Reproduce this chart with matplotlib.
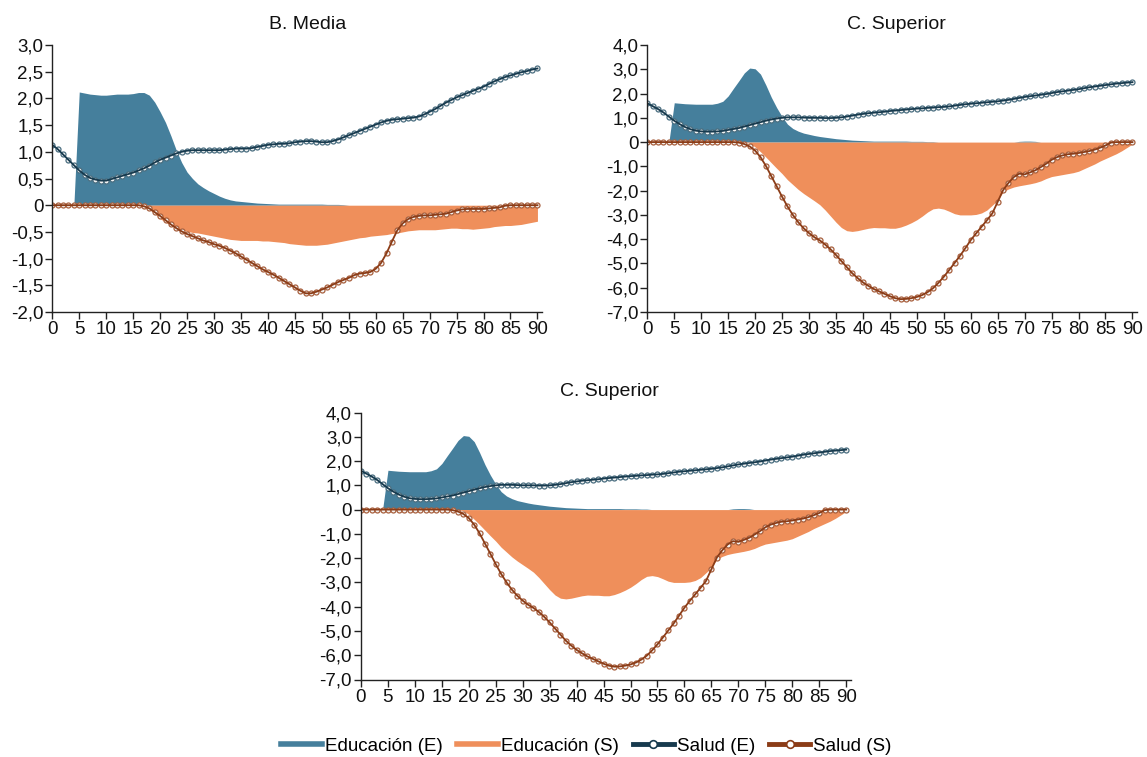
import matplotlib as mpl
mpl.use('Agg')
import matplotlib.pyplot as plt
from matplotlib.lines import Line2D
import numpy as np

plt.rcParams['font.family'] = ['Liberation Sans', 'DejaVu Sans']

# ------- data (ages 0..90) --------
ages = list(range(91))

# B. Media
media_edu_e = [0, 0, 0, 0, 0, 2.12, 2.10, 2.08, 2.07, 2.06,
               2.06, 2.07, 2.08, 2.08, 2.08, 2.09, 2.11, 2.11, 2.06, 1.93,
               1.75, 1.55, 1.30, 1.03, 0.80, 0.62, 0.50, 0.40, 0.33, 0.27,
               0.22, 0.17, 0.13, 0.10, 0.08, 0.07, 0.06, 0.05, 0.04, 0.035,
               0.03, 0.025, 0.02, 0.02, 0.02, 0.02, 0.02, 0.02, 0.02, 0.02,
               0.02, 0.015, 0.015, 0.015, 0.01, 0, 0, 0, 0, 0,
               0, 0, 0, 0, 0, 0, 0, 0, 0, 0,
               0, 0, 0, 0, 0, 0, 0, 0, 0, 0,
               0, 0, 0, 0, 0, 0, 0, 0, 0, 0, 0]
media_edu_s = [0, 0, 0, 0, 0, 0, 0, 0, 0, 0,
               0, 0, 0, 0, 0, 0, 0, -0.02, -0.08, -0.16,
               -0.25, -0.32, -0.37, -0.42, -0.46, -0.49, -0.51, -0.52, -0.54, -0.56,
               -0.58, -0.60, -0.62, -0.64, -0.65, -0.66, -0.66, -0.66, -0.66, -0.67,
               -0.67, -0.68, -0.69, -0.70, -0.72, -0.73, -0.74, -0.75, -0.75, -0.75,
               -0.74, -0.73, -0.71, -0.69, -0.67, -0.65, -0.63, -0.61, -0.60, -0.58,
               -0.57, -0.56, -0.55, -0.53, -0.52, -0.50, -0.48, -0.47, -0.46, -0.46,
               -0.46, -0.46, -0.45, -0.44, -0.43, -0.43, -0.44, -0.44, -0.45, -0.44,
               -0.43, -0.42, -0.40, -0.39, -0.38, -0.38, -0.37, -0.36, -0.34, -0.32, -0.30]
media_sal_e = [1.13, 1.05, 0.95, 0.85, 0.75, 0.65, 0.57, 0.51, 0.48, 0.46,
               0.46, 0.49, 0.52, 0.55, 0.58, 0.61, 0.65, 0.69, 0.74, 0.80,
               0.85, 0.89, 0.93, 0.97, 1.00, 1.02, 1.03, 1.03, 1.03, 1.03,
               1.03, 1.03, 1.04, 1.05, 1.06, 1.06, 1.06, 1.07, 1.09, 1.11,
               1.13, 1.14, 1.15, 1.15, 1.16, 1.18, 1.19, 1.20, 1.20, 1.19,
               1.18, 1.18, 1.20, 1.23, 1.27, 1.31, 1.35, 1.39, 1.43, 1.47,
               1.51, 1.55, 1.58, 1.60, 1.61, 1.62, 1.63, 1.64, 1.66, 1.70,
               1.75, 1.80, 1.86, 1.92, 1.97, 2.02, 2.06, 2.10, 2.14, 2.18,
               2.22, 2.27, 2.32, 2.36, 2.40, 2.43, 2.46, 2.49, 2.51, 2.54, 2.56]
media_sal_s = [0, 0, 0, 0, 0, 0, 0, 0, 0, 0,
               0, 0, 0, 0, 0, 0, 0, -0.02, -0.06, -0.13,
               -0.20, -0.28, -0.36, -0.43, -0.49, -0.54, -0.58, -0.62, -0.66, -0.69,
               -0.73, -0.76, -0.80, -0.85, -0.90, -0.96, -1.02, -1.08, -1.14, -1.20,
               -1.25, -1.30, -1.36, -1.42, -1.48, -1.54, -1.60, -1.65, -1.65, -1.62,
               -1.58, -1.54, -1.49, -1.44, -1.40, -1.36, -1.31, -1.28, -1.27, -1.25,
               -1.19, -1.08, -0.90, -0.68, -0.47, -0.34, -0.26, -0.22, -0.20, -0.19,
               -0.19, -0.18, -0.17, -0.16, -0.13, -0.10, -0.08, -0.07, -0.07, -0.07,
               -0.07, -0.06, -0.05, -0.04, -0.01, 0, 0, 0, 0, 0, 0]

# C. Superior
sup_edu_e = [0, 0, 0, 0, 0, 1.62, 1.60, 1.58, 1.57, 1.56,
             1.56, 1.56, 1.56, 1.60, 1.68, 1.90, 2.22, 2.53, 2.85, 3.05,
             3.02, 2.80, 2.35, 1.85, 1.42, 1.05, 0.74, 0.56, 0.45, 0.37,
             0.32, 0.27, 0.23, 0.20, 0.17, 0.14, 0.12, 0.10, 0.08, 0.07,
             0.06, 0.05, 0.04, 0.04, 0.04, 0.04, 0.04, 0.04, 0.04, 0.03,
             0.03, 0.03, 0.02, 0.02, 0, 0, 0, 0, 0, 0,
             0, 0, 0, 0, 0, 0, 0, 0, 0, 0.03,
             0.04, 0.04, 0.03, 0, 0, 0, 0, 0, 0, 0,
             0, 0, 0, 0, 0, 0, 0, 0, 0, 0, 0]
sup_edu_s = [0, 0, 0, 0, 0, 0, 0, 0, 0, 0,
             0, 0, 0, 0, 0, 0, 0, 0, 0, -0.05,
             -0.20, -0.40, -0.62, -0.85, -1.08, -1.30, -1.55, -1.75, -1.95, -2.12,
             -2.27, -2.42, -2.58, -2.80, -3.05, -3.30, -3.52, -3.65, -3.68, -3.65,
             -3.60, -3.55, -3.52, -3.53, -3.53, -3.55, -3.55, -3.50, -3.42, -3.32,
             -3.20, -3.05, -2.88, -2.75, -2.72, -2.76, -2.85, -2.95, -3.00, -3.00,
             -3.00, -2.98, -2.92, -2.80, -2.60, -2.40, -2.05, -1.93, -1.85, -1.80,
             -1.76, -1.72, -1.67, -1.60, -1.50, -1.42, -1.38, -1.34, -1.30, -1.26,
             -1.20, -1.10, -1.00, -0.90, -0.78, -0.68, -0.58, -0.48, -0.36, -0.22, -0.08]
sup_sal_e = [1.60, 1.48, 1.36, 1.22, 1.05, 0.88, 0.74, 0.62, 0.53, 0.47,
             0.44, 0.43, 0.43, 0.44, 0.46, 0.50, 0.54, 0.58, 0.64, 0.70,
             0.76, 0.82, 0.88, 0.93, 0.97, 1.00, 1.02, 1.02, 1.02, 1.01,
             1.00, 1.00, 1.00, 0.99, 0.99, 1.00, 1.02, 1.05, 1.09, 1.13,
             1.16, 1.19, 1.21, 1.23, 1.25, 1.28, 1.30, 1.32, 1.34, 1.36,
             1.38, 1.39, 1.41, 1.42, 1.44, 1.45, 1.47, 1.50, 1.53, 1.56,
             1.58, 1.60, 1.62, 1.64, 1.66, 1.68, 1.71, 1.74, 1.78, 1.82,
             1.86, 1.89, 1.92, 1.95, 1.98, 2.02, 2.06, 2.09, 2.12, 2.15,
             2.18, 2.22, 2.26, 2.29, 2.32, 2.35, 2.38, 2.41, 2.43, 2.45, 2.47]
sup_sal_s = [0, 0, 0, 0, 0, 0, 0, 0, 0, 0,
             0, 0, 0, 0, 0, 0, 0, -0.02, -0.08, -0.18,
             -0.35, -0.62, -0.98, -1.40, -1.82, -2.25, -2.65, -3.00, -3.30, -3.55,
             -3.75, -3.92, -4.05, -4.22, -4.42, -4.65, -4.90, -5.15, -5.40, -5.60,
             -5.78, -5.92, -6.05, -6.15, -6.25, -6.35, -6.43, -6.47, -6.46, -6.43,
             -6.38, -6.30, -6.18, -6.02, -5.80, -5.55, -5.27, -4.98, -4.69, -4.37,
             -4.04, -3.76, -3.49, -3.22, -2.94, -2.46, -1.98, -1.68, -1.44, -1.30,
             -1.33, -1.25, -1.16, -1.03, -0.89, -0.73, -0.62, -0.55, -0.50, -0.48,
             -0.45, -0.41, -0.37, -0.31, -0.23, -0.14, -0.02, 0, 0, 0, 0]

panels = [
    ('B. Media', media_edu_e, media_edu_s, media_sal_e, media_sal_s, (-2.0, 3.0), 0.5),
    ('C. Superior', sup_edu_e, sup_edu_s, sup_sal_e, sup_sal_s, (-7.0, 4.0), 1.0),
    ('C. Superior', sup_edu_e, sup_edu_s, sup_sal_e, sup_sal_s, (-7.0, 4.0), 1.0),
]

series_labels = ['Educación (E)', 'Educación (S)', 'Salud (E)', 'Salud (S)']

c_edu_e = '#457f9c'
c_edu_s = '#ef8f5b'
c_sal_e = '#173a4e'
c_sal_s = '#8b3c17'
m_sal_e = '#4a6e80'
m_sal_s = '#a8603e'

W, H = 1147, 757
fig = plt.figure(figsize=(W / 100, H / 100), dpi=100)

# axes boxes in pixels: left, top, width, height
boxes = [(52.3, 45, 490, 267), (647.3, 45, 490, 267), (361, 412.5, 490, 267)]
title_x = [0.521, 0.508, 0.506]


def fmt(v):
    if abs(v) < 1e-9:
        return '0'
    return ('%.1f' % v).replace('.', ',')


for (title, ee, es, se, ss, ylim, step), (l, t, w, h), tx in zip(panels, boxes, title_x):
    ax = fig.add_axes([l / W, 1 - (t + h) / H, w / W, h / H])
    ax.fill_between(ages, 0, ee, color=c_edu_e, lw=0)
    ax.fill_between(ages, 0, es, color=c_edu_s, lw=0)
    # open circles under the line, line drawn through them
    ax.plot(ages, se, 'o', ms=3.6, mfc='#f4f4f4', mec=m_sal_e, mew=0.9)
    ax.plot(ages, se, '-', color=c_sal_e, lw=1.3)
    ax.plot(ages, ss, 'o', ms=3.6, mfc='#f4f4f4', mec=m_sal_s, mew=0.9)
    ax.plot(ages, ss, '-', color=c_sal_s, lw=1.3)
    ax.set_xlim(0, 90.9)
    ax.set_ylim(*ylim)
    ax.set_xticks(range(0, 91, 5))
    yt = np.arange(ylim[0], ylim[1] + step / 2, step)
    ax.set_yticks(yt)
    ax.set_yticklabels([fmt(v) for v in yt])
    for s in ['top', 'right']:
        ax.spines[s].set_visible(False)
    for s in ['left', 'bottom']:
        ax.spines[s].set_color('#222222')
        ax.spines[s].set_linewidth(1.0)
    ax.tick_params(axis='both', direction='out', length=5, width=1.0,
                   color='#222222', labelsize=13.5, pad=1.5, labelcolor='#111111')
    ax.text(tx, 1 + 16 / h, title, transform=ax.transAxes, ha='center',
            va='baseline', fontsize=14, color='#111111')

handles = [
    Line2D([], [], color=c_edu_e, lw=4),
    Line2D([], [], color=c_edu_s, lw=4),
    Line2D([], [], color=c_sal_e, lw=3.5, marker='o', ms=5.5, mfc='white', mec=c_sal_e, mew=1.2),
    Line2D([], [], color=c_sal_s, lw=3.5, marker='o', ms=5.5, mfc='white', mec=c_sal_s, mew=1.2),
]
fig.legend(handles, series_labels, loc='center', bbox_to_anchor=(0.511, 0.014),
           ncol=4, frameon=False, fontsize=13.5, handlelength=2.2,
           handletextpad=0.15, columnspacing=0.75)

fig.savefig('out.png', dpi=100)
